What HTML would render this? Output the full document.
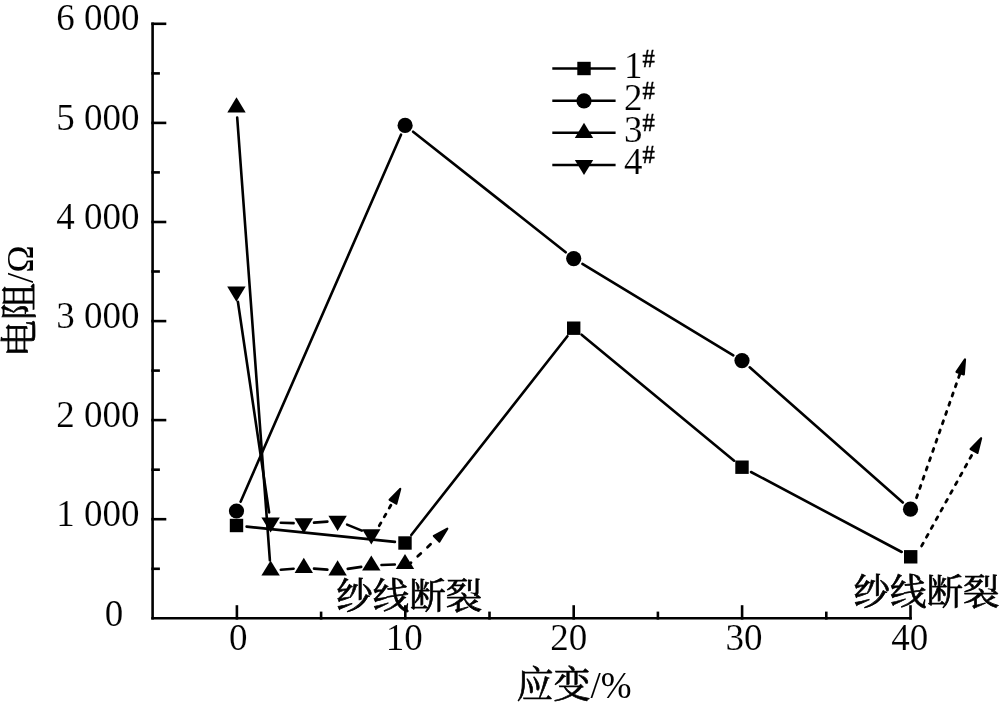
<!DOCTYPE html>
<html><head><meta charset="utf-8"><title>chart</title>
<style>
html,body{margin:0;padding:0;background:#fff;}
body{width:1000px;height:708px;overflow:hidden;}
svg{display:block;will-change:transform;}
.num{font-family:"Liberation Serif","Noto Serif CJK SC",serif;font-size:37px;fill:#000;stroke:#fff;stroke-width:0.15px;paint-order:fill;}
.sup{font-size:24.5px;stroke:#000;stroke-width:0.5px;}
.cjk{font-family:"Liberation Serif","Noto Serif CJK SC",serif;font-size:36.5px;fill:#000;}
.t37{font-size:37px;}
.cjk{font-weight:400;stroke:#000;stroke-width:0.7px;}
.ns{stroke:none;}
.num2{font-family:"Liberation Serif","Noto Serif CJK SC",serif;}
.dash{stroke-linecap:round;fill:none;}
</style></head>
<body><svg width="1000" height="708" viewBox="0 0 1000 708">
<rect width="1000" height="708" fill="#fff"/>
<g stroke="#000" stroke-width="2.6" fill="none" stroke-linecap="square">
<line x1="152.6" y1="23.8" x2="152.6" y2="618.3"/>
<line x1="152.6" y1="618.3" x2="910.5" y2="618.3"/>
<line x1="152.6" y1="519.2" x2="165.0" y2="519.2"/>
<line x1="152.6" y1="420.1" x2="165.0" y2="420.1"/>
<line x1="152.6" y1="321.1" x2="165.0" y2="321.1"/>
<line x1="152.6" y1="222.0" x2="165.0" y2="222.0"/>
<line x1="152.6" y1="122.9" x2="165.0" y2="122.9"/>
<line x1="152.6" y1="23.8" x2="165.0" y2="23.8"/>
<line x1="152.6" y1="568.8" x2="158.6" y2="568.8"/>
<line x1="152.6" y1="469.7" x2="158.6" y2="469.7"/>
<line x1="152.6" y1="370.6" x2="158.6" y2="370.6"/>
<line x1="152.6" y1="271.5" x2="158.6" y2="271.5"/>
<line x1="152.6" y1="172.4" x2="158.6" y2="172.4"/>
<line x1="152.6" y1="73.4" x2="158.6" y2="73.4"/>
<line x1="236.9" y1="618.3" x2="236.9" y2="606.5"/>
<line x1="405.3" y1="618.3" x2="405.3" y2="606.5"/>
<line x1="573.7" y1="618.3" x2="573.7" y2="606.5"/>
<line x1="742.1" y1="618.3" x2="742.1" y2="606.5"/>
<line x1="910.5" y1="618.3" x2="910.5" y2="606.5"/>
<line x1="321.1" y1="618.3" x2="321.1" y2="612.9"/>
<line x1="489.5" y1="618.3" x2="489.5" y2="612.9"/>
<line x1="657.9" y1="618.3" x2="657.9" y2="612.9"/>
<line x1="826.3" y1="618.3" x2="826.3" y2="612.9"/>
</g>
<g stroke="#000" stroke-width="2.6" fill="none" stroke-linecap="round">
<line x1="246.6" y1="526.6" x2="394.9" y2="541.9"/>
<line x1="411.3" y1="535.0" x2="567.4" y2="336.2"/>
<line x1="581.6" y1="334.7" x2="734.1" y2="460.7"/>
<line x1="751.0" y1="472.0" x2="901.7" y2="552.0"/>
<line x1="240.6" y1="501.7" x2="401.0" y2="134.7"/>
<line x1="413.1" y1="131.7" x2="565.7" y2="252.3"/>
<line x1="582.4" y1="263.9" x2="733.3" y2="355.3"/>
<line x1="749.7" y1="367.3" x2="902.8" y2="502.5"/>
<line x1="237.2" y1="117.6" x2="269.9" y2="560.3"/>
<line x1="280.8" y1="569.7" x2="293.6" y2="568.7"/>
<line x1="314.0" y1="568.6" x2="327.4" y2="569.6"/>
<line x1="347.7" y1="568.9" x2="361.2" y2="566.9"/>
<line x1="381.5" y1="565.0" x2="394.8" y2="564.5"/>
<line x1="237.9" y1="301.7" x2="269.1" y2="512.4"/>
<line x1="280.8" y1="522.8" x2="293.6" y2="523.1"/>
<line x1="314.0" y1="522.6" x2="327.4" y2="521.6"/>
<line x1="347.1" y1="524.6" x2="361.8" y2="530.6"/>
</g>
<g stroke="#000" stroke-width="2.6" fill="#000">
<line class="dash" stroke-width="2.8" stroke-dasharray="3.20 6.90" stroke-dashoffset="8.10" x1="378.3" y1="527.4" x2="393.4" y2="500.8"/><polygon stroke-width="2.2" stroke-linejoin="round" points="400.2,488.9 396.3,503.6 389.6,499.7"/>
<line class="dash" stroke-width="2.8" stroke-dasharray="4.20 9.20" stroke-dashoffset="0.90" x1="408.6" y1="564.9" x2="437.2" y2="538.1"/><polygon stroke-width="2.2" stroke-linejoin="round" points="447.3,528.7 439.3,541.6 433.9,535.9"/>
<line class="dash" stroke-width="2.8" stroke-dasharray="3.20 6.60" stroke-dashoffset="5.30" x1="915.0" y1="502.0" x2="960.4" y2="372.4"/><polygon stroke-width="2.2" stroke-linejoin="round" points="965.0,359.3 963.8,374.5 956.5,371.9"/>
<line class="dash" stroke-width="2.8" stroke-dasharray="3.20 6.80" stroke-dashoffset="5.80" x1="919.6" y1="549.6" x2="974.5" y2="450.2"/><polygon stroke-width="2.2" stroke-linejoin="round" points="981.1,438.2 977.4,452.9 970.6,449.1"/>
</g>
<g fill="#000" stroke="none">
<rect x="229.8" y="518.8" width="13.4" height="13.4"/>
<rect x="398.3" y="536.3" width="13.4" height="13.4"/>
<rect x="567.0" y="321.5" width="13.4" height="13.4"/>
<rect x="735.3" y="460.5" width="13.4" height="13.4"/>
<rect x="904.0" y="550.1" width="13.4" height="13.4"/>
<circle cx="236.5" cy="511.0" r="7.6"/>
<circle cx="405.1" cy="125.4" r="7.6"/>
<circle cx="573.7" cy="258.6" r="7.6"/>
<circle cx="742.0" cy="360.6" r="7.6"/>
<circle cx="910.5" cy="509.2" r="7.6"/>
<polygon points="236.5,97.3 245.7,112.5 227.3,112.5"/>
<polygon points="270.6,560.4 279.8,575.6 261.4,575.6"/>
<polygon points="303.8,557.8 313.0,573.0 294.6,573.0"/>
<polygon points="337.6,560.2 346.8,575.4 328.4,575.4"/>
<polygon points="371.3,555.4 380.5,570.6 362.1,570.6"/>
<polygon points="405.0,553.9 414.2,569.1 395.8,569.1"/>
<polygon points="227.2,286.5 245.6,286.5 236.4,301.7"/>
<polygon points="261.4,517.4 279.8,517.4 270.6,532.6"/>
<polygon points="294.6,518.3 313.0,518.3 303.8,533.5"/>
<polygon points="328.4,515.7 346.8,515.7 337.6,530.9"/>
<polygon points="362.1,529.3 380.5,529.3 371.3,544.5"/>
</g>
<g stroke="#000" stroke-width="2.6">
<line x1="552.3" y1="68.5" x2="615.6" y2="68.5"/>
<line x1="552.3" y1="100.8" x2="615.6" y2="100.8"/>
<line x1="552.3" y1="132.8" x2="615.6" y2="132.8"/>
<line x1="552.3" y1="165.0" x2="615.6" y2="165.0"/>
</g><g fill="#000">
<rect x="577.3" y="61.8" width="13.4" height="13.4"/>
<circle cx="584.0" cy="100.8" r="7.6"/>
<polygon points="584.0,122.7 593.2,137.9 574.8,137.9"/>
<polygon points="574.8,159.9 593.2,159.9 584.0,175.1"/>
</g>
<text class="num" x="624.0" y="77.9">1<tspan class="sup" dy="-11.2">#</tspan></text>
<text class="num" x="624.0" y="110.2">2<tspan class="sup" dy="-11.2">#</tspan></text>
<text class="num" x="624.0" y="142.2">3<tspan class="sup" dy="-11.2">#</tspan></text>
<text class="num" x="624.0" y="174.4">4<tspan class="sup" dy="-11.2">#</tspan></text>
<text class="num" text-anchor="end" x="139.5" y="29.7">6 000</text>
<text class="num" text-anchor="end" x="139.5" y="129.8">5 000</text>
<text class="num" text-anchor="end" x="139.5" y="228.9">4 000</text>
<text class="num" text-anchor="end" x="139.5" y="328.0">3 000</text>
<text class="num" text-anchor="end" x="139.5" y="427.0">2 000</text>
<text class="num" text-anchor="end" x="139.5" y="526.1">1 000</text>
<text class="num" text-anchor="end" x="123.3" y="625.6">0</text>
<text class="num" text-anchor="middle" x="238.2" y="650.0">0</text>
<text class="num" text-anchor="middle" x="404.3" y="650.0">10</text>
<text class="num" text-anchor="middle" x="568.8" y="650.0">20</text>
<text class="num" text-anchor="middle" x="743.9" y="650.0">30</text>
<text class="num" text-anchor="middle" x="909.7" y="650.0">40</text>
<text class="cjk t37" x="516.5" y="698.3">应变<tspan class="ns">/%</tspan></text>
<text class="cjk t37" transform="translate(32.5,357) rotate(-90)">电阻<tspan class="ns">/Ω</tspan></text>
<text class="cjk" x="336.3" y="608.6">纱线断裂</text>
<text class="cjk" x="853.5" y="605.3">纱线断裂</text>
</svg></body></html>
